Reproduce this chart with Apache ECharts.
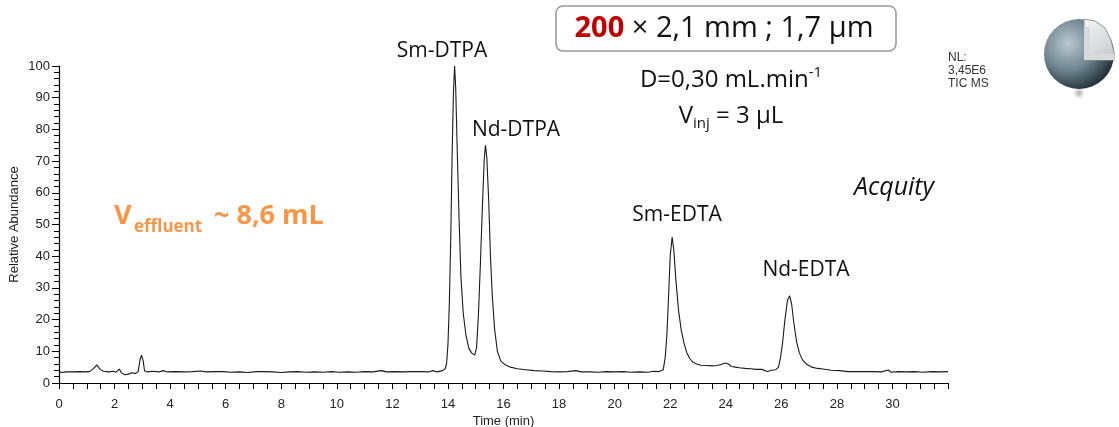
<!DOCTYPE html>
<html><head><meta charset="utf-8">
<script src="https://cdn.jsdelivr.net/npm/echarts@6/dist/echarts.min.js"></script>
<style>html,body{margin:0;padding:0;background:#fff}#c{width:1119px;height:427px}</style>
</head><body><div id="c"></div>
<script>
// Retention time (min)
const times = [0,0.1,0.25,0.5,0.75,0.9,1.1,1.25,1.36,1.48,1.6,1.8,1.95,2.05,2.17,2.25,2.37,2.5,2.62,2.75,2.85,2.92,2.97,3.03,3.08,3.2,3.4,3.6,3.75,3.9,4.2,4.5,4.8,5.1,5.3,5.6,5.9,6.2,6.5,6.8,7.1,7.4,7.7,8.0,8.3,8.6,8.9,9.2,9.5,9.8,10.1,10.4,10.7,11.0,11.3,11.6,11.8,12.1,12.4,12.7,13.0,13.3,13.45,13.6,13.8,13.9,
13.95,14.0,14.05,14.1,14.15,14.2,14.24,14.28,14.33,14.4,14.47,14.55,14.65,14.75,14.85,14.96,15.03,15.1,15.17,15.25,15.31,15.35,15.4,15.47,15.53,15.6,15.68,15.78,15.9,16.05,16.25,16.5,16.8,17.1,17.4,17.7,
18.0,18.3,18.6,18.8,19.1,19.4,19.7,20.0,20.3,20.6,20.9,21.2,21.4,21.6,21.75,
21.82,21.88,21.94,22.0,22.07,22.13,22.2,22.3,22.4,22.5,22.6,22.7,22.8,22.95,23.1,23.3,23.5,23.7,23.85,24.0,24.1,24.2,24.35,24.5,24.7,24.9,25.1,25.3,25.5,25.65,25.8,25.9,
25.97,26.05,26.13,26.22,26.3,26.37,26.45,26.55,26.65,26.76,26.9,27.1,27.3,27.5,27.8,28.1,28.4,28.7,29.0,29.3,29.6,29.85,29.95,30.2,30.5,30.8,31.1,31.4,31.7,32];
// Relative abundance (%)
const abundance = [3.6,3.3,3.5,3.5,3.6,3.5,3.6,4.6,5.7,4.3,3.7,3.5,3.7,3.4,4.4,3.2,2.6,2.8,3.2,3.0,3.6,7.5,8.8,7.0,3.8,3.5,3.7,3.5,3.9,3.5,3.6,3.5,3.6,3.8,3.5,3.6,3.6,3.4,3.5,3.3,3.6,3.6,3.5,3.3,3.5,3.6,3.4,3.5,3.4,3.6,3.4,3.5,3.4,3.6,3.5,3.9,3.5,3.6,3.5,3.6,3.6,3.5,3.9,3.5,3.9,4.5,
6,12,25,45,72,92,100,93,75,52,33,22,15,11,9.5,8.8,11,22,38,58,71,75,71,57,40,27,17,10,7.0,5.8,5.0,4.5,4.2,3.9,3.8,3.6,
3.5,3.6,3.9,3.5,3.5,3.4,3.6,3.5,3.6,3.4,3.5,3.4,3.7,3.6,4.2,
8,15,27,40,46,42,33,23,16.5,12.5,9.5,7.8,6.7,6.0,5.6,5.5,5.4,5.5,5.9,6.3,6.0,5.2,5.0,4.8,4.6,4.5,4.3,4.3,3.6,4.0,4.2,5.0,
8,13,20,26,27.5,25,19,13,9.5,7.3,6.0,5.0,4.6,4.4,4.0,3.9,3.6,3.6,3.6,3.6,3.5,4.1,3.4,3.6,3.5,3.6,3.4,3.6,3.5,3.6];
const xTicks = {min: 0, max: 32, interval: 2};
const yTicks = {min: 0, max: 100, interval: 10};

const seriesData = times.map((t, i) => [t, abundance[i]]);
const chart = echarts.init(document.getElementById('c'));
const lab = {fontFamily: 'Liberation Sans, Arial', fontSize: 13, color: '#222'};
const F = '"Open Sans", sans-serif';
chart.setOption({
  animation: false,
  grid: {left: 59, right: 171, top: 66, bottom: 44, outerBoundsMode: 'none', containLabel: false},
  xAxis: {
    type: 'value', min: xTicks.min, max: xTicks.max, interval: xTicks.interval,
    name: 'Time (min)', nameLocation: 'middle', nameGap: 32, nameMoveOverlap: false,
    nameTextStyle: {fontFamily: 'Liberation Sans, Arial', fontSize: 13, color: '#222'},
    axisLine: {show: true, onZero: false, lineStyle: {color: '#000', width: 1.2}},
    axisTick: {show: true, length: 6, lineStyle: {color: '#000'}},
    minorTick: {show: true, splitNumber: 4, length: 6, lineStyle: {color: '#000'}},
    axisLabel: Object.assign({margin: 15, showMaxLabel: false, formatter: v => v >= 32 ? '' : String(v)}, lab),
    splitLine: {show: false}
  },
  yAxis: {
    type: 'value', min: yTicks.min, max: yTicks.max, interval: yTicks.interval,
    name: 'Relative Abundance', nameLocation: 'middle', nameGap: 38, nameMoveOverlap: false,
    nameTextStyle: {fontFamily: 'Liberation Sans, Arial', fontSize: 13, color: '#222'},
    axisLine: {show: true, lineStyle: {color: '#000', width: 1.2}},
    axisTick: {show: true, length: 7, lineStyle: {color: '#000'}},
    minorTick: {show: true, splitNumber: 5, length: 5, lineStyle: {color: '#000'}},
    axisLabel: Object.assign({margin: 9}, lab),
    splitLine: {show: false}
  },
  series: [{
    type: 'line', data: seriesData, showSymbol: false, smooth: false,
    lineStyle: {color: '#1a1a1a', width: 1.1}
  }],
  graphic: [
    {type: 'text', style: {x: 442, y: 51, text: 'Sm-DTPA', font: '21px ' + F, fill: '#111', textAlign: 'center', textVerticalAlign: 'middle'}},
    {type: 'text', style: {x: 516, y: 130, text: 'Nd-DTPA', font: '21px ' + F, fill: '#111', textAlign: 'center', textVerticalAlign: 'middle'}},
    {type: 'text', style: {x: 677, y: 215, text: 'Sm-EDTA', font: '21px ' + F, fill: '#111', textAlign: 'center', textVerticalAlign: 'middle'}},
    {type: 'text', style: {x: 806, y: 270, text: 'Nd-EDTA', font: '21px ' + F, fill: '#111', textAlign: 'center', textVerticalAlign: 'middle'}},
    {type: 'text', style: {x: 894, y: 188, text: 'Acquity', font: 'italic 25px ' + F, fill: '#111', textAlign: 'center', textVerticalAlign: 'middle'}},
    {type: 'text', style: {x: 114, y: 216, text: 'V', font: 'bold 27px ' + F, fill: '#F79646', textAlign: 'left', textVerticalAlign: 'middle'}},
    {type: 'text', style: {x: 134, y: 227, text: 'effluent', font: 'bold 17px ' + F, fill: '#F79646', textAlign: 'left', textVerticalAlign: 'middle'}},
    {type: 'text', style: {x: 214, y: 216, text: '~ 8,6 mL', font: 'bold 27px ' + F, fill: '#F79646', textAlign: 'left', textVerticalAlign: 'middle'}},
    {type: 'rect', shape: {x: 556, y: 6, width: 340, height: 45, r: 7}, style: {fill: '#fff', stroke: '#9a9a9a', lineWidth: 1.6}},
    {type: 'text', style: {x: 724, y: 29, text: '{r|200}{k| × 2,1 mm ; 1,7 µm}', textAlign: 'center', textVerticalAlign: 'middle',
      rich: {r: {font: 'bold 29px ' + F, fill: '#C00000'}, k: {font: '29px ' + F, fill: '#111'}}}},
    {type: 'text', style: {x: 731, y: 80, text: '{a|D=0,30 mL.min}{s|-1}', textAlign: 'center', textVerticalAlign: 'middle',
      rich: {a: {font: '24px ' + F, fill: '#111', lineHeight: 30}, s: {font: '15px ' + F, fill: '#111', verticalAlign: 'top', lineHeight: 30, padding: [0, 0, 14, 0]}}}},
    {type: 'text', style: {x: 731, y: 116, text: '{a|V}{s|inj}{a| = 3 µL}', textAlign: 'center', textVerticalAlign: 'middle',
      rich: {a: {font: '24px ' + F, fill: '#111', lineHeight: 30}, s: {font: '15px ' + F, fill: '#111', verticalAlign: 'bottom', lineHeight: 30, padding: [13, 0, 0, 0]}}}},
    {type: 'text', style: {x: 948, y: 51, text: 'NL:\n3,45E6\nTIC MS', font: '12px Liberation Sans, Arial', fill: '#333', textAlign: 'left', textVerticalAlign: 'top', lineHeight: 13}},
    {type: 'ellipse', shape: {cx: 1079, cy: 93, rx: 33, ry: 6}, style: {fill: new echarts.graphic.RadialGradient(0.5, 0.5, 0.5, [{offset: 0, color: 'rgba(80,80,80,0.45)'}, {offset: 1, color: 'rgba(80,80,80,0)'}])}},
    {type: 'circle', shape: {cx: 1079, cy: 54, r: 35}, style: {fill: new echarts.graphic.RadialGradient(0.35, 0.35, 0.75, [{offset: 0, color: '#b9c8cf'}, {offset: 0.5, color: '#6f8690'}, {offset: 1, color: '#16222a'}])}},
    {type: 'polygon', shape: {points: [[1084, 60], [1084, 19], [1095, 21], [1105, 28], [1111, 40], [1114, 52], [1114, 60]]}, style: {fill: new echarts.graphic.LinearGradient(0, 0, 1, 1, [{offset: 0, color: '#f6f6f6'}, {offset: 1, color: '#c4c8ca'}]), stroke: '#8a969c', lineWidth: 1}},
    {type: 'polygon', shape: {points: [[1084, 60], [1084, 26], [1090, 28], [1090, 54], [1114, 54], [1114, 60]]}, style: {fill: '#d8dadb'}}
  ]
});
</script></body></html>
